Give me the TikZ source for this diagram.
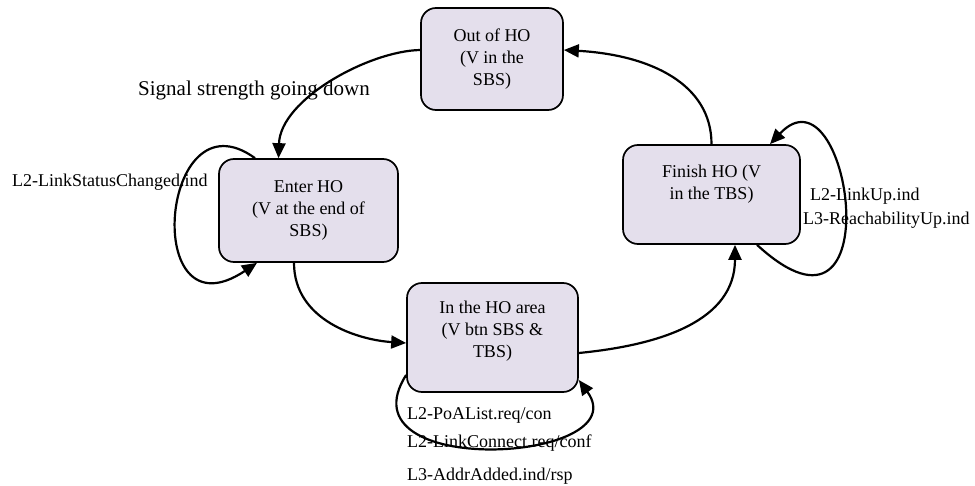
\documentclass[tikz,border=0pt]{standalone}
\usepackage{fontspec}
\setmainfont{Liberation Serif}
\usetikzlibrary{arrows.meta}
\definecolor{statefill}{RGB}{228,223,236}
\tikzset{->, > = {Triangle[length = 15pt, width = 13pt]}, x = 1pt, y = -1pt}
\tikzset{hostate/.style = {draw, line width = 1.7pt, rounded corners = 15pt, fill = statefill, align = center, font = \fontsize{18}{22}\selectfont}}
\tikzset{lbl/.style = {inner sep = 0pt, anchor = base west, font = \fontsize{18}{22}\selectfont}}
\tikzset{trans/.style = {line width = 2.2pt}}

\begin{document}
\begin{tikzpicture}
  \useasboundingbox (0, 0) rectangle (975, 486);
  % nodes
  \node (out) [hostate, minimum width = 142, minimum height = 102] at (492, 59) {Out of HO\\(V in the\\SBS)};
  \node (enter) [hostate, minimum width = 179, minimum height = 103] at (308.5, 210.5) {Enter HO\\(V at the end of\\SBS)};
  \node (finish) [hostate, minimum width = 177, minimum height = 99] at (711.5, 194.5) {Finish HO (V\\in the TBS)\\[2pt]\mbox{}};
  \node (area) [hostate, minimum width = 171, minimum height = 109] at (492.5, 337.5) {In the HO area\\(V btn SBS \&\\TBS)\\[-6pt]\mbox{}};
  % labels
  \node (sig) [lbl, font = \fontsize{21}{25}\selectfont] at (138, 96) {Signal strength going down};
  \node (lsc) [lbl] at (12, 187) {L2-LinkStatusChanged.ind};
  \node (lup) [lbl] at (810, 201) {L2-LinkUp.ind};
  \node (lru) [lbl] at (803, 225) {L3-ReachabilityUp.ind};
  \node (poa) [lbl] at (407, 420) {L2-PoAList.req/con};
  \node (lcr) [lbl] at (407, 447) {L2-LinkConnect.req/conf};
  \node (aar) [lbl] at (407, 480) {L3-AddrAdded.ind/rsp};
  % edges
  \draw [trans] ([yshift = 9]out.west) .. controls +(-51, 1) and +(2, -59) .. ([xshift = -30]enter.north);
  \draw [trans] (finish.north) .. controls +(0, -60) and +(87, 5) .. ([yshift = 9]out.east);
  \draw [trans] ([xshift = -14.5]enter.south) .. controls +(0, 58) and +(-47, -3) .. ([yshift = -5.5]area.west);
  \draw [trans] ([yshift = -15.5]area.east) .. controls +(82, -8) and +(0, 76) .. ([xshift = 23.5]finish.south);
  % loops
  \draw [trans] ([xshift = -53.5]enter.north) .. controls +(-95, -69) and +(-117, 78) .. ([xshift = -51.5]enter.south);
  \draw [trans] ([xshift = 45.5]finish.south) .. controls +(137, 126) and +(80, -85) .. ([xshift = 58.5]finish.north);
  \draw [trans] ([yshift = -37.5]area.west) .. controls +(-67, 105) and +(60, 83) .. ([yshift = -42.5]area.east);
\end{tikzpicture}
\end{document}
